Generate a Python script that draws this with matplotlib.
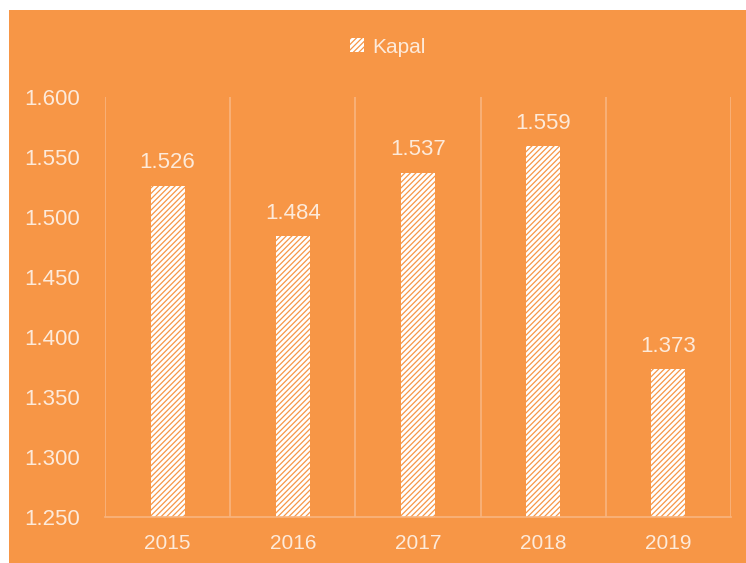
import matplotlib.pyplot as plt
from matplotlib.ticker import FuncFormatter

years = ['2015', '2016', '2017', '2018', '2019']
kapal = [1526, 1484, 1537, 1559, 1373]
yticks = [1250, 1300, 1350, 1400, 1450, 1500, 1550, 1600]

orange = '#F79646'
grid_c = '#F9B57F'
text_c = '#FDEADA'

plt.rcParams['font.family'] = ['Liberation Sans', 'DejaVu Sans']
plt.rcParams['hatch.color'] = orange
plt.rcParams['hatch.linewidth'] = 0.9

fig = plt.figure(figsize=(7.46, 5.63), dpi=100)
fig.patch.set_facecolor('white')
bg = fig.add_axes([9/746, 0, 1 - 9/746, 1 - 10/563])
bg.set_facecolor(orange)
bg.set_xticks([]); bg.set_yticks([])
for s in bg.spines.values():
    s.set_visible(False)

ax = fig.add_axes([105/746, 1 - 517/563, (731 - 105)/746, (517 - 97)/563])
ax.set_facecolor('none')
x = range(len(years))
bars = ax.bar(x, kapal, width=0.27, color='white', hatch='//////',
              edgecolor=orange, linewidth=0, label='Kapal')
ax.set_ylim(1250, 1600)
ax.set_xlim(-0.5, 4.5)
ax.set_yticks(yticks)
fmt = lambda v, p: f'{int(v):,}'.replace(',', '.')
ax.yaxis.set_major_formatter(FuncFormatter(fmt))
ax.set_xticks(list(x))
ax.set_xticklabels(years)
for b in [i - 0.5 for i in range(len(years) + 1)]:
    ax.axvline(b, color=grid_c, lw=1.2, zorder=0)
for s in ['top', 'right', 'left']:
    ax.spines[s].set_visible(False)
ax.spines['bottom'].set_color(grid_c)
ax.spines['bottom'].set_linewidth(1.2)
ax.tick_params(axis='both', length=0, colors=text_c, labelsize=16)
ax.tick_params(axis='y', pad=18)
ax.tick_params(axis='x', pad=12, labelsize=15)

for xi, v in zip(x, kapal):
    ax.annotate(fmt(v, None), (xi, v), xytext=(0, 9), textcoords='offset points',
                ha='center', va='bottom', color=text_c, fontsize=16)

leg = fig.legend(handles=[bars], labels=['Kapal'], loc='center',
                 bbox_to_anchor=(388/746, 1 - 47/563), frameon=False,
                 fontsize=15, handlelength=0.65, handleheight=0.65, handletextpad=0.4)
for t in leg.get_texts():
    t.set_color(text_c)

fig.savefig('out.png', dpi=100, facecolor=fig.get_facecolor())
